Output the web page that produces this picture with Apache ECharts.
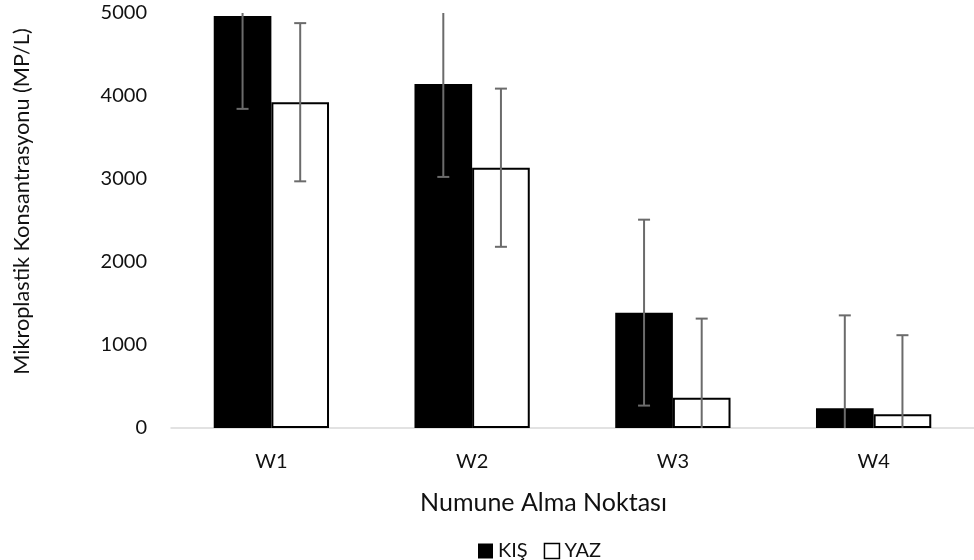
<!DOCTYPE html>
<html>
<head>
<meta charset="utf-8">
<script src="https://cdn.jsdelivr.net/npm/echarts@6/dist/echarts.min.js"></script>
<style>html,body{margin:0;padding:0;background:#fff;}#c{width:974px;height:560px;}</style>
</head>
<body>
<div id="c"></div>
<script>
var categories = ['W1', 'W2', 'W3', 'W4'];
var seriesNames = ['KIŞ', 'YAZ'];
var kisValues = [4965, 4145, 1390, 237];
var yazValues = [3925, 3136, 365, 165];
var kisErrors = [1120, 1120, 1120, 1120];
var yazErrors = [953, 953, 953, 953];
var yTicks = [0, 1000, 2000, 3000, 4000, 5000];

var FONT = 'Lato';
var BAR_FRAC = 58 / 202;
var Y_MIN = yTicks[0], Y_MAX = yTicks[yTicks.length - 1];

function errorSeries(name, values, errors, side) {
  var data = values.map(function (v, i) { return [i, v, errors[i]]; });
  return {
    type: 'custom',
    name: name + ' err',
    z: 10,
    silent: true,
    data: data,
    encode: { x: 0, y: 1 },
    renderItem: function (params, api) {
      var idx = api.value(0), v = api.value(1), e = api.value(2);
      var band = api.size([1, 0])[0];
      var c = api.coord([idx, v]);
      var x = c[0] + side * band * BAR_FRAC / 2;
      var hiV = v + e, loV = v - e;
      var top = api.coord([idx, Math.min(hiV, Y_MAX)])[1];
      var bot = api.coord([idx, Math.max(loV, Y_MIN)])[1];
      var style = { stroke: '#6b6b6b', lineWidth: 2, fill: null };
      var children = [{ type: 'line', shape: { x1: x, y1: top, x2: x, y2: bot }, style: style }];
      if (hiV <= Y_MAX) children.push({ type: 'line', shape: { x1: x - 6, y1: top, x2: x + 6, y2: top }, style: style });
      if (loV >= Y_MIN) children.push({ type: 'line', shape: { x1: x - 6, y1: bot, x2: x + 6, y2: bot }, style: style });
      return { type: 'group', children: children };
    }
  };
}

var chart = echarts.init(document.getElementById('c'), null, { renderer: 'canvas' });
chart.setOption({
  animation: false,
  backgroundColor: '#ffffff',
  textStyle: { fontFamily: FONT },
  grid: { left: 171, right: -5, top: 13, bottom: 132, containLabel: false },
  legend: {
    data: [
      { name: seriesNames[0], icon: 'rect', itemStyle: { color: '#000', borderWidth: 0 } },
      { name: seriesNames[1], icon: 'rect', itemStyle: { color: '#fff', borderColor: '#000', borderWidth: 1.5 } }
    ],
    left: 473, top: 536,
    itemWidth: 15, itemHeight: 15, itemGap: 16,
    textStyle: { fontFamily: FONT, fontSize: 20, color: '#111' }
  },
  xAxis: {
    type: 'category',
    data: categories,
    name: 'Numune Alma Noktası',
    nameLocation: 'middle',
    nameGap: 62,
    nameTextStyle: { fontFamily: FONT, fontSize: 25, color: '#111', padding: [0, 58, 0, 0] },
    axisLine: { lineStyle: { color: '#d9d9d9', width: 1.5 } },
    axisTick: { show: false },
    axisLabel: { fontFamily: FONT, fontSize: 20, color: '#111', margin: 24 },
    splitLine: { show: false }
  },
  yAxis: {
    type: 'value',
    min: Y_MIN, max: Y_MAX, interval: 1000,
    name: 'Mikroplastik Konsantrasyonu (MP/L)',
    nameLocation: 'middle',
    nameGap: 138,
    nameTextStyle: { fontFamily: FONT, fontSize: 21.7, color: '#111', padding: [0, 0, 0, 38] },
    axisLine: { show: false },
    axisTick: { show: false },
    splitLine: { show: false },
    axisLabel: { fontFamily: FONT, fontSize: 20, color: '#111', margin: 24, formatter: function (v) { return String(v); } }
  },
  series: [
    {
      type: 'bar', name: seriesNames[0], data: kisValues,
      barWidth: (BAR_FRAC * 100) + '%', barGap: '0%',
      itemStyle: { color: '#000', borderWidth: 0 }
    },
    {
      type: 'bar', name: seriesNames[1], data: yazValues,
      barWidth: (BAR_FRAC * 100) + '%', barGap: '0%',
      itemStyle: { color: '#fff', borderColor: '#000', borderWidth: 2 }
    },
    errorSeries(seriesNames[0], kisValues, kisErrors, -1),
    errorSeries(seriesNames[1], yazValues, yazErrors, 1)
  ]
});
</script>
</body>
</html>
